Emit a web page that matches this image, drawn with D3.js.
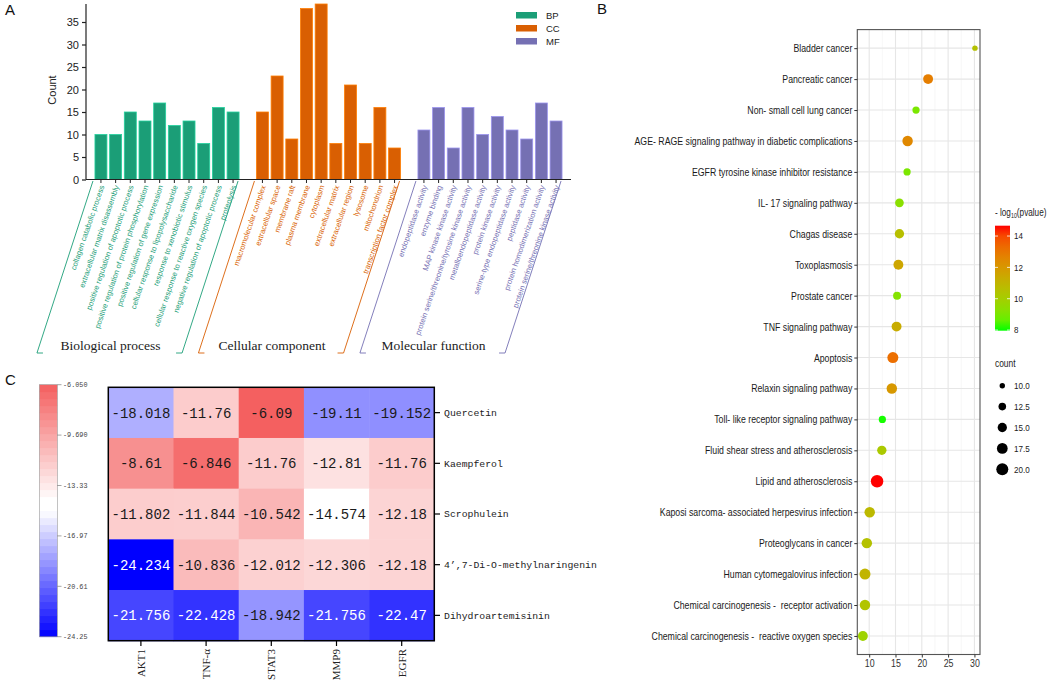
<!DOCTYPE html>
<html>
<head>
<meta charset="utf-8">
<script src="https://cdn.jsdelivr.net/npm/d3@7"></script>
<style>
  body { margin: 0; background: #fff; }
  svg { display: block; font-family: "Liberation Sans", Arial, sans-serif; }
</style>
</head>
<body>
<svg id="fig" width="1052" height="684"></svg>
<script>
// ---------- panel A data (GO terms) ----------
var bpTerms = ["collagen catabolic process", "extracellular matrix disassembly",
  "positive regulation of apoptotic process", "positive regulation of protein phosphorylation",
  "positive regulation of gene expression", "cellular response to lipopolysaccharide",
  "response to xenobiotic stimulus", "cellular response to reactive oxygen species",
  "negative regulation of apoptotic process", "proteolysis"];
var bpCounts = [10, 10, 15, 13, 17, 12, 13, 8, 16, 15];
var ccTerms = ["macromolecular complex", "extracellular space", "membrane raft", "plasma membrane",
  "cytoplasm", "extracellular matrix", "extracellular region", "lysosome", "mitochondrion",
  "transcription factor complex"];
var ccCounts = [15, 23, 9, 38, 39, 8, 21, 8, 16, 7];
var mfTerms = ["endopeptidase activity", "enzyme binding", "MAP kinase kinase activity",
  "protein serine/threonine/tyrosine kinase activity", "metalloendopeptidase activity",
  "protein kinase activity", "serine-type endopeptidase activity", "peptidase activity",
  "protein homodimerization activity", "protein serine/threonine kinase activity"];
var mfCounts = [11, 16, 7, 16, 10, 14, 11, 9, 17, 13];
var goKeys = ["BP", "CC", "MF"];
var goNames = ["Biological process", "Cellular component", "Molecular function"];
var goColors = ["#1b9e77", "#d95f02", "#7570b3"];
var countTicks = [0, 5, 10, 15, 20, 25, 30, 35];

// ---------- panel B data (KEGG) ----------
var keggTerms = ["Bladder cancer", "Pancreatic cancer", "Non- small cell lung cancer",
  "AGE- RAGE signaling pathway in diabetic complications", "EGFR tyrosine kinase inhibitor resistance",
  "IL- 17 signaling pathway", "Chagas disease", "Toxoplasmosis", "Prostate cancer",
  "TNF signaling pathway", "Apoptosis", "Relaxin signaling pathway",
  "Toll- like receptor signaling pathway", "Fluid shear stress and atherosclerosis",
  "Lipid and atherosclerosis", "Kaposi sarcoma- associated herpesvirus infection",
  "Proteoglycans in cancer", "Human cytomegalovirus infection",
  "Chemical carcinogenesis -  receptor activation", "Chemical carcinogenesis -  reactive oxygen species"];
var keggRich = [30.1, 21.2, 18.9, 17.3, 17.2, 15.75, 15.75, 15.55, 15.3, 15.2,
  14.5, 14.3, 12.5, 12.4, 11.5, 10.1, 9.55, 9.2, 9.2, 8.8];
var keggCount = [10, 16, 12, 17, 12, 14, 15, 16, 13, 16, 18, 17, 12, 15, 21, 17, 17, 18, 17, 16];
var keggLogP = [10.5, 12.8, 9.0, 12.5, 9.0, 9.3, 10.6, 11.5, 9.2, 11.3,
  13.2, 12.0, 8.0, 10.2, 14.66, 10.8, 10.5, 11.0, 10.4, 9.8];
var richTicks = [10, 15, 20, 25, 30];
var richMinor = [12.5, 17.5, 22.5, 27.5];
var logPTicks = [8, 10, 12, 14];
var countLegend = [10, 12.5, 15, 17.5, 20];

// ---------- panel C data (docking) ----------
var genes = ["AKT1", "TNF-\u03b1", "STAT3", "MMP9", "EGFR"];
var compounds = ["Quercetin", "Kaempferol", "Scrophulein", "4\u2019,7-Di-O-methylnaringenin", "Dihydroartemisinin"];
var dockScores = [
  [-18.018, -11.76, -6.09, -19.11, -19.152],
  [-8.61, -6.846, -11.76, -12.81, -11.76],
  [-11.802, -11.844, -10.542, -14.574, -12.18],
  [-24.234, -10.836, -12.012, -12.306, -12.18],
  [-21.756, -22.428, -18.942, -21.756, -22.47]
];
var dockText = [
  ["-18.018", "-11.76", "-6.09", "-19.11", "-19.152"],
  ["-8.61", "-6.846", "-11.76", "-12.81", "-11.76"],
  ["-11.802", "-11.844", "-10.542", "-14.574", "-12.18"],
  ["-24.234", "-10.836", "-12.012", "-12.306", "-12.18"],
  ["-21.756", "-22.428", "-18.942", "-21.756", "-22.47"]
];
var cbarTicks = [-6.05, -9.69, -13.33, -16.97, -20.61, -24.25];
var cbarLabels = ["-6.050", "-9.690", "-13.33", "-16.97", "-20.61", "-24.25"];

var svg = d3.select("#fig");
var narrow = "Liberation Sans, Arial, sans-serif";

function panelLetter(t, x, y) {
  svg.append("text").attr("x", x).attr("y", y).attr("font-size", 15).attr("fill", "#111").text(t);
}

// squeeze text horizontally (no narrow font installed)
function condense(sel, f) {
  sel.each(function() {
    var len = this.getComputedTextLength();
    d3.select(this).attr("textLength", len * f).attr("lengthAdjust", "spacingAndGlyphs");
  });
}

/* ================= Panel A ================= */
function drawGo() {
  var g = svg.append("g");
  var groups = [
    { key: "BP", terms: bpTerms, counts: bpCounts },
    { key: "CC", terms: ccTerms, counts: ccCounts },
    { key: "MF", terms: mfTerms, counts: mfCounts }
  ];
  var items = [], domain = [];
  groups.forEach(function(gr, gi) {
    if (gi > 0) domain.push("gap" + gi);
    gr.terms.forEach(function(t, i) {
      var id = gr.key + i;
      domain.push(id);
      items.push({ id: id, term: t, count: gr.counts[i], gi: gi });
    });
  });

  var x = d3.scaleBand().domain(domain).range([86, 571]).paddingInner(0.184).paddingOuter(0.61);
  var y = d3.scaleLinear().domain([0, 39]).range([179.5, 4]);

  g.selectAll("rect.bar").data(items).enter().append("rect")
    .attr("class", "bar")
    .attr("x", function(d) { return x(d.id); })
    .attr("width", x.bandwidth())
    .attr("y", function(d) { return y(d.count); })
    .attr("height", function(d) { return y(0) - y(d.count); })
    .attr("fill", function(d) { return goColors[d.gi]; })
    .attr("stroke", function(d) { return d3.color(goColors[d.gi]).brighter(0.8); })
    .attr("stroke-width", 0.8);

  // y axis
  var yAxis = g.append("g").attr("transform", "translate(86,0)")
    .call(d3.axisLeft(y).tickValues(countTicks).tickSize(4).tickPadding(3));
  yAxis.select(".domain").attr("d", "M0," + y(0) + "V4").attr("stroke", "#222").attr("stroke-width", 1.2);
  yAxis.selectAll(".tick line").attr("stroke", "#222").attr("stroke-width", 1.2);
  yAxis.selectAll("text").attr("font-size", 11).attr("fill", "#222")
    .attr("font-family", "Liberation Sans, Arial, sans-serif");

  g.append("text").attr("transform", "translate(56,90) rotate(-90)")
    .attr("text-anchor", "middle").attr("font-size", 11).attr("fill", "#222").text("Count");

  // x axis line + ticks
  g.append("line").attr("x1", 86).attr("x2", 571).attr("y1", y(0)).attr("y2", y(0))
    .attr("stroke", "#222").attr("stroke-width", 1.2);
  g.selectAll("line.xt").data(items).enter().append("line")
    .attr("class", "xt")
    .attr("x1", function(d) { return x(d.id) + x.bandwidth() / 2; })
    .attr("x2", function(d) { return x(d.id) + x.bandwidth() / 2; })
    .attr("y1", y(0)).attr("y2", y(0) + 3.5)
    .attr("stroke", "#222").attr("stroke-width", 1);

  // term labels
  g.selectAll("text.term").data(items).enter().append("text")
    .attr("class", "term")
    .attr("transform", function(d) {
      return "translate(" + (x(d.id) + x.bandwidth() / 2 + 1) + "," + (y(0) + 6) + ") rotate(-71)";
    })
    .attr("dy", "0.35em")
    .attr("text-anchor", "end")
    .attr("font-size", 7.6)
    .attr("fill", function(d) { return goColors[d.gi]; })
    .text(function(d) { return d.term; });

  // group brackets and titles
  var slant = 56, yTop = 181, yBot = 353;
  groups.forEach(function(gr, gi) {
    var xs = x(gr.key + "0") - 2;
    var xe = x(gr.key + (gr.terms.length - 1)) + x.bandwidth() - 1;
    var col = goColors[gi];
    g.append("path")
      .attr("d", "M" + xs + "," + yTop + "L" + (xs - slant) + "," + yBot + "h6")
      .attr("fill", "none").attr("stroke", col).attr("stroke-width", 0.9);
    g.append("path")
      .attr("d", "M" + xe + "," + yTop + "L" + (xe - slant) + "," + yBot + "h-6")
      .attr("fill", "none").attr("stroke", col).attr("stroke-width", 0.9);
    g.append("text")
      .attr("x", (xs + xe) / 2 - slant + 1).attr("y", 350)
      .attr("text-anchor", "middle")
      .attr("font-family", "Liberation Serif, Times New Roman, serif")
      .attr("font-size", 13.5).attr("fill", "#222")
      .text(goNames[gi]);
  });

  // legend
  var lg = g.append("g");
  goKeys.forEach(function(k, i) {
    lg.append("rect").attr("x", 516).attr("y", 12 + i * 13).attr("width", 21).attr("height", 6.5)
      .attr("fill", goColors[i]);
    lg.append("text").attr("x", 546).attr("y", 15.3 + i * 13).attr("dy", "0.35em")
      .attr("font-size", 9.5).attr("fill", "#222").text(k);
  });

  panelLetter("A", 5, 15);
}

/* ================= Panel B ================= */
function drawKegg() {
  var g = svg.append("g");
  var left = 857.3, right = 980, top = 29.6, bottom = 654.5;
  var x = d3.scaleLinear().domain([7.74, 31.06]).range([left, right]);
  var y = d3.scalePoint().domain(keggTerms).range([top, bottom]).padding(0.6);
  var color = d3.scaleLinear().domain([7.96, 14.66]).range(["#00ff00", "#ff0000"])
    .interpolate(d3.interpolateLab);
  var size = d3.scaleRadial().domain([10, 20]).range([2.7, 6]);

  // grid
  g.selectAll("line.gmin").data(richMinor).enter().append("line")
    .attr("x1", x).attr("x2", x).attr("y1", top).attr("y2", bottom)
    .attr("stroke", "#f2f2f2").attr("stroke-width", 0.6);
  g.selectAll("line.gx").data(richTicks).enter().append("line")
    .attr("x1", x).attr("x2", x).attr("y1", top).attr("y2", bottom)
    .attr("stroke", "#e6e6e6").attr("stroke-width", 1.1);
  g.selectAll("line.gy").data(keggTerms).enter().append("line")
    .attr("x1", left).attr("x2", right).attr("y1", y).attr("y2", y)
    .attr("stroke", "#e6e6e6").attr("stroke-width", 1.1);

  // points
  var pts = keggTerms.map(function(t, i) {
    return { term: t, rich: keggRich[i], count: keggCount[i], p: keggLogP[i] };
  });
  g.selectAll("circle.pt").data(pts).enter().append("circle")
    .attr("cx", function(d) { return x(d.rich); })
    .attr("cy", function(d) { return y(d.term); })
    .attr("r", function(d) { return size(d.count); })
    .attr("fill", function(d) { return color(d.p); });

  g.append("rect").attr("x", left).attr("y", top).attr("width", right - left).attr("height", bottom - top)
    .attr("fill", "none").attr("stroke", "#555").attr("stroke-width", 1.1);

  // y axis labels
  var ya = g.append("g").attr("transform", "translate(" + left + ",0)")
    .call(d3.axisLeft(y).tickSize(3).tickPadding(2));
  ya.select(".domain").remove();
  ya.selectAll(".tick line").attr("stroke", "#333");
  ya.selectAll("text").attr("font-size", 11).attr("fill", "#1a1a1a")
    .attr("font-family", narrow).style("white-space", "pre");
  condense(ya.selectAll("text"), 0.795);

  var xa = g.append("g").attr("transform", "translate(0," + bottom + ")")
    .call(d3.axisBottom(x).tickValues(richTicks).tickSize(3).tickPadding(2));
  xa.select(".domain").remove();
  xa.selectAll(".tick line").attr("stroke", "#333");
  xa.selectAll("text").attr("font-size", 10.5).attr("fill", "#333").attr("font-family", narrow);
  condense(xa.selectAll("text"), 0.84);

  // colour legend
  var defs = svg.append("defs");
  var grad = defs.append("linearGradient").attr("id", "pgrad")
    .attr("x1", 0).attr("x2", 0).attr("y1", 1).attr("y2", 0);
  d3.range(0, 1.0001, 0.1).forEach(function(t) {
    grad.append("stop").attr("offset", t).attr("stop-color", color(7.96 + t * (14.66 - 7.96)));
  });
  var cy = d3.scaleLinear().domain([7.96, 14.66]).range([330.7, 225.7]);
  g.append("rect").attr("x", 995).attr("y", 225.7).attr("width", 15).attr("height", 105)
    .attr("fill", "url(#pgrad)");
  var lblP = [];
  logPTicks.forEach(function(v) {
    g.append("line").attr("x1", 995).attr("x2", 998).attr("y1", cy(v)).attr("y2", cy(v))
      .attr("stroke", "#fff").attr("stroke-width", 0.8);
    g.append("line").attr("x1", 1007).attr("x2", 1010).attr("y1", cy(v)).attr("y2", cy(v))
      .attr("stroke", "#fff").attr("stroke-width", 0.8);
    lblP.push(g.append("text").attr("x", 1014).attr("y", cy(v)).attr("dy", "0.35em")
      .attr("font-size", 9.5).attr("fill", "#222").attr("font-family", narrow).text(v).node());
  });
  condense(d3.selectAll(lblP), 0.84);
  var title = g.append("text").attr("transform", "translate(995,216) scale(0.82,1)")
    .attr("font-size", 10).attr("fill", "#222").attr("font-family", narrow);
  title.append("tspan").text("- log");
  title.append("tspan").attr("font-size", 6.5).attr("dy", 2).text("10");
  title.append("tspan").attr("dy", -2).text("(pvalue)");

  // size legend
  g.append("text").attr("transform", "translate(995,367) scale(0.84,1)").attr("font-size", 10)
    .attr("fill", "#222").attr("font-family", narrow).text("count");
  var lblC = [];
  countLegend.forEach(function(v, i) {
    var yy = 385.7 + i * 20.9;
    g.append("circle").attr("cx", 1002.3).attr("cy", yy).attr("r", size(v)).attr("fill", "#000");
    lblC.push(g.append("text").attr("x", 1014).attr("y", yy).attr("dy", "0.35em").attr("font-size", 9.6)
      .attr("fill", "#222").attr("font-family", narrow).text(d3.format(".1f")(v)).node());
  });
  condense(d3.selectAll(lblC), 0.84);

  panelLetter("B", 597, 14);
}

/* ================= Panel C ================= */
function drawDock() {
  var g = svg.append("g");
  var mono = "Liberation Mono, DejaVu Sans Mono, monospace";
  var x = d3.scaleBand().domain(genes).range([108.3, 434.3]);
  var y = d3.scaleBand().domain(compounds).range([387.3, 640.7]);
  var color = d3.scaleLinear().domain([-24.25, -15.15, -14.4, -6.05])
    .range(["#0000ff", "#ffffff", "#ffffff", "#f45f5f"]);

  var cells = [];
  compounds.forEach(function(c, r) {
    genes.forEach(function(gn, k) {
      cells.push({ c: c, g: gn, v: dockScores[r][k], t: dockText[r][k] });
    });
  });
  g.selectAll("rect.cell").data(cells).enter().append("rect")
    .attr("x", function(d) { return x(d.g); })
    .attr("y", function(d) { return y(d.c); })
    .attr("width", x.bandwidth() + 0.5).attr("height", y.bandwidth() + 0.5)
    .attr("fill", function(d) { return color(d.v); });
  g.selectAll("text.val").data(cells).enter().append("text")
    .attr("x", function(d) { return x(d.g) + x.bandwidth() / 2; })
    .attr("y", function(d) { return y(d.c) + y.bandwidth() / 2; })
    .attr("dy", "0.35em").attr("text-anchor", "middle")
    .attr("font-family", mono).attr("font-size", 14)
    .attr("fill", function(d) { return d.v < -20 ? "#fff" : "#1a1a1a"; })
    .text(function(d) { return d.t; });
  g.append("rect").attr("x", 108.3).attr("y", 387.3).attr("width", 326).attr("height", 253.4)
    .attr("fill", "none").attr("stroke", "#000").attr("stroke-width", 1.5);

  // axes
  genes.forEach(function(gn) {
    var cx = x(gn) + x.bandwidth() / 2;
    g.append("line").attr("x1", cx).attr("x2", cx).attr("y1", 640.7).attr("y2", 646)
      .attr("stroke", "#000").attr("stroke-width", 1.2);
    g.append("text").attr("transform", "translate(" + cx + ",649) rotate(-90)")
      .attr("dy", "0.35em").attr("text-anchor", "end")
      .attr("font-family", "Liberation Serif, serif").attr("font-size", 11).attr("fill", "#222")
      .text(gn);
  });
  compounds.forEach(function(c) {
    var cy = y(c) + y.bandwidth() / 2;
    g.append("line").attr("x1", 434.3).attr("x2", 440).attr("y1", cy).attr("y2", cy)
      .attr("stroke", "#000").attr("stroke-width", 1.2);
    g.append("text").attr("x", 444).attr("y", cy).attr("dy", "0.35em")
      .attr("font-family", mono).attr("font-size", 9.8).attr("fill", "#222").text(c);
  });

  // colour bar
  var cb = d3.scaleLinear().domain([-24.25, -6.05]).range([636.7, 384.7]);
  var steps = d3.range(-24.25, -6.05, 18.2 / 36);
  g.selectAll("rect.cb").data(steps).enter().append("rect")
    .attr("x", 39.3).attr("width", 18)
    .attr("y", function(v) { return cb(v + 18.2 / 36); })
    .attr("height", cb(0) - cb(18.2 / 36) + 0.4)
    .attr("fill", function(v) { return color(v + 18.2 / 72); });
  g.append("rect").attr("x", 39.3).attr("y", 384.7).attr("width", 18).attr("height", 252)
    .attr("fill", "none").attr("stroke", "#999").attr("stroke-width", 0.6);
  cbarTicks.forEach(function(v, i) {
    g.append("line").attr("x1", 57.3).attr("x2", 61.5).attr("y1", cb(v)).attr("y2", cb(v))
      .attr("stroke", "#666").attr("stroke-width", 0.6);
    g.append("text").attr("x", 63).attr("y", cb(v)).attr("dy", "0.35em")
      .attr("font-family", mono).attr("font-size", 6.8).attr("fill", "#444").text(cbarLabels[i]);
  });

  panelLetter("C", 5, 385);
}

drawGo();
drawKegg();
drawDock();
</script>
</body>
</html>
